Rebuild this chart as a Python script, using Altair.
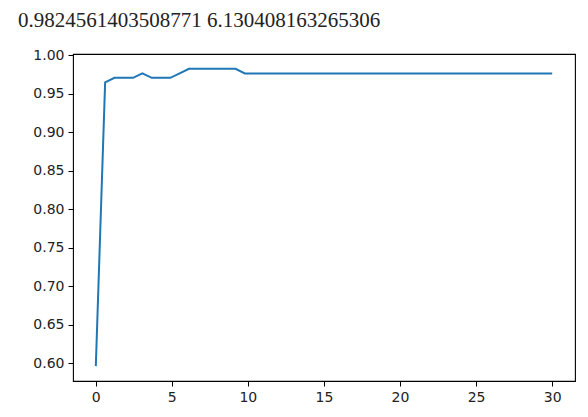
import altair as alt
import pandas as pd

x_vals = [0.01, 0.6220, 1.2341, 1.8461, 2.4582, 3.0702, 3.6822, 4.2943, 4.9063, 5.5184,
          6.1304, 6.7424, 7.3545, 7.9665, 8.5786, 9.1906, 9.8027, 10.4147, 11.0267, 11.6388,
          12.2508, 12.8629, 13.4749, 14.0869, 14.6990, 15.3110, 15.9231, 16.5351, 17.1471, 17.7592,
          18.3712, 18.9833, 19.5953, 20.2073, 20.8194, 21.4314, 22.0435, 22.6555, 23.2676, 23.8796,
          24.4916, 25.1037, 25.7157, 26.3278, 26.9398, 27.5518, 28.1639, 28.7759, 29.3880, 30.0]

scores = [0.5965, 0.9649, 0.9708, 0.9708, 0.9708, 0.9766, 0.9708, 0.9708, 0.9708, 0.9766,
          0.9825, 0.9825, 0.9825, 0.9825, 0.9825, 0.9825, 0.9766, 0.9766, 0.9766, 0.9766,
          0.9766, 0.9766, 0.9766, 0.9766, 0.9766, 0.9766, 0.9766, 0.9766, 0.9766, 0.9766,
          0.9766, 0.9766, 0.9766, 0.9766, 0.9766, 0.9766, 0.9766, 0.9766, 0.9766, 0.9766,
          0.9766, 0.9766, 0.9766, 0.9766, 0.9766, 0.9766, 0.9766, 0.9766, 0.9766, 0.9766]

x_ticks = [0, 5, 10, 15, 20, 25, 30]
y_ticks = [0.60, 0.65, 0.70, 0.75, 0.80, 0.85, 0.90, 0.95, 1.00]
title_text = "0.9824561403508771  6.130408163265306"

df = pd.DataFrame({"x": x_vals, "score": scores})

axis_common = dict(
    grid=False, domain=False, ticks=True, tickSize=5, tickColor="#000", tickWidth=1,
    labelFont="DejaVu Sans", labelFontSize=14, labelColor="#222", labelPadding=4, title=None,
)

chart = alt.Chart(df).mark_line(color="#1f77b4", strokeWidth=2).encode(
    x=alt.X("x:Q", scale=alt.Scale(domain=[-1.4895, 31.4995], nice=False, zero=False),
            axis=alt.Axis(values=x_ticks, format="d", **axis_common)),
    y=alt.Y("score:Q", scale=alt.Scale(domain=[0.5772, 1.0018], nice=False, zero=False),
            axis=alt.Axis(values=y_ticks, format=".2f", **axis_common)),
).properties(
    width=502,
    height=327,
    title=alt.TitleParams(
        text=title_text, anchor="start", frame="group", dx=-55, dy=13, offset=30,
        font="Liberation Serif", fontSize=21, fontWeight="normal", color="#222",
    ),
    autosize=alt.AutoSizeParams(type="none"),
    padding={"left": 65, "top": 46, "right": 5, "bottom": 26},
).configure(background="white").configure_view(stroke="#000", strokeWidth=1.1)

chart.save("out.html", embed_options={"renderer": "svg", "actions": False})
